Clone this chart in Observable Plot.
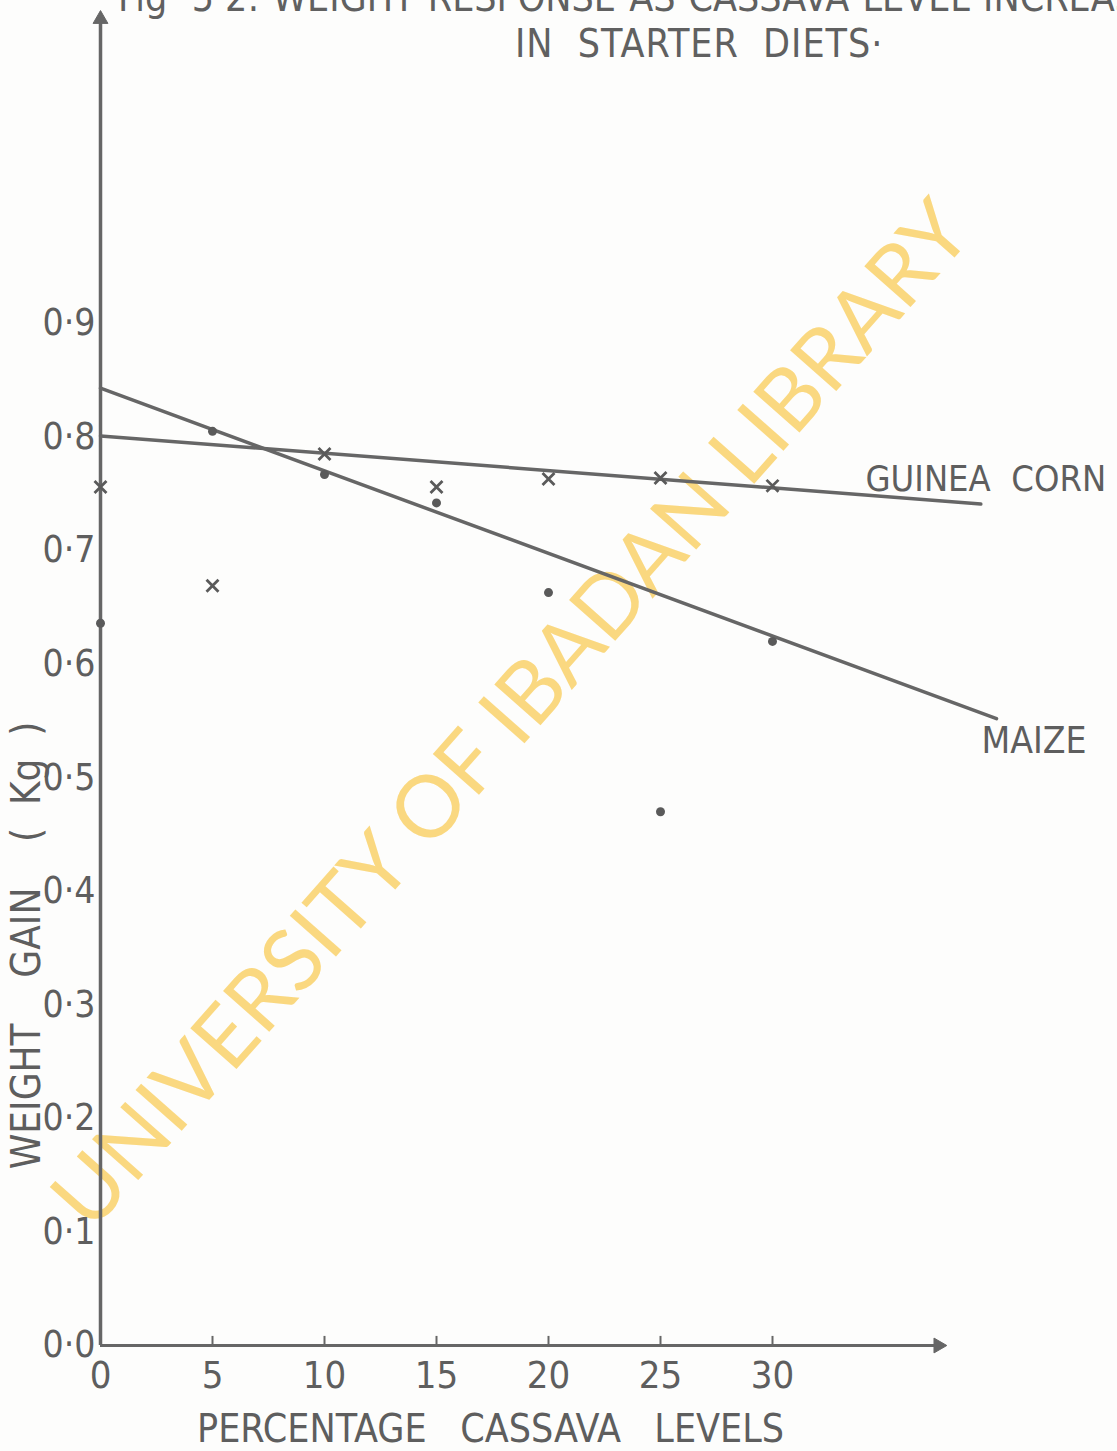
<!DOCTYPE html>
<html>
<head>
<meta charset="utf-8">
<script src="https://cdn.jsdelivr.net/npm/d3@7"></script>
<script src="https://cdn.jsdelivr.net/npm/@observablehq/plot@0.6"></script>
<style>
  html, body { margin: 0; padding: 0; background: #fdfdfc; overflow: hidden; }
  #wrap { position: relative; width: 1117px; height: 1451px; }
  .title { position: absolute; white-space: nowrap; font-family: "DejaVu Sans Condensed", "DejaVu Sans", sans-serif;
           font-size: 39px; color: #606060; }
  #t1 { left: 118px; top: -25px; word-spacing: 2px; letter-spacing: 0px; }
  #t2 { left: 515px; top: 21px; word-spacing: 12px; letter-spacing: 1px; }
</style>
</head>
<body>
<div id="wrap">
  <div class="title" id="t1">Fig· 5·2: WEIGHT  RESPONSE  AS  CASSAVA  LEVEL  INCREASES</div>
  <div class="title" id="t2">IN  STARTER  DIETS·</div>
  <div id="chart"></div>
</div>
<script>
// ---- data ----
const cassavaLevels = [0, 5, 10, 15, 20, 25, 30];
const guineaCornGain = [0.756, 0.669, 0.785, 0.756, 0.763, 0.764, 0.757];
const maizeGain = [0.636, 0.805, 0.767, 0.742, 0.663, 0.470, 0.620];
// fitted response lines (end points as drawn)
const guineaLineX = [0, 39.3];
const guineaLineY = [0.801, 0.741];
const maizeLineX = [0, 40];
const maizeLineY = [0.843, 0.552];
const xTicks = [0, 5, 10, 15, 20, 25, 30];
const yTicks = [0, 0.1, 0.2, 0.3, 0.4, 0.5, 0.6, 0.7, 0.8, 0.9];
const xAxisEnd = 37.4;
const yAxisEnd = 1.168;
const xTitle = "PERCENTAGE   CASSAVA   LEVELS";
const yTitle = "WEIGHT    GAIN    (  Kg  )";
const watermark = "UNIVERSITY OF IBADAN LIBRARY";

const guinea = cassavaLevels.map((x, i) => ({x, y: guineaCornGain[i]}));
const maize = cassavaLevels.map((x, i) => ({x, y: maizeGain[i]}));
const guineaLine = guineaLineX.map((x, i) => ({x, y: guineaLineY[i]}));
const maizeLine = maizeLineX.map((x, i) => ({x, y: maizeLineY[i]}));

const ink = "#666666";
const font = '"DejaVu Sans Condensed", "DejaVu Sans", sans-serif';

const chart = Plot.plot({
  width: 1117,
  height: 1451,
  marginLeft: 100,
  marginRight: 121,
  marginTop: 5,
  marginBottom: 106,
  x: {type: "linear", domain: [0, 40]},
  y: {type: "linear", domain: [0, 1.18]},
  style: {fontFamily: font, fontSize: "38px", color: "#5e5e5e", background: "transparent"},
  marks: [
    // watermark
    Plot.text([watermark], {frameAnchor: "middle", textAnchor: "middle", text: d => d, rotate: -48.5, dx: -36, dy: 40,
      fill: "#f9d16a", fillOpacity: 0.85, fontSize: 86, fontFamily: "Lato, 'Open Sans', sans-serif",
      letterSpacing: 4}),
    // axes with filled arrowheads
    Plot.ruleY([0], {x1: 0, x2: xAxisEnd, stroke: ink, strokeWidth: 3}),
    Plot.ruleX([0], {y1: 0, y2: yAxisEnd, stroke: ink, strokeWidth: 3.5}),
    Plot.dot([{x: xAxisEnd, y: 0}], {x: "x", y: "y", symbol: "triangle", rotate: 90, r: 5.5, fill: ink, stroke: ink, strokeWidth: 1}),
    Plot.dot([{x: 0, y: yAxisEnd}], {x: "x", y: "y", symbol: "triangle", r: 5.5, fill: ink, stroke: ink, strokeWidth: 1}),
    Plot.ruleX(xTicks.filter(d => d > 0), {x: d => d, y1: 0, y2: 0.008, stroke: ink, strokeWidth: 2}),
    Plot.axisX(xTicks, {tickSize: 0, tickPadding: 16, label: null, tickFormat: d => String(d), fontSize: 38}),
    Plot.axisY(yTicks, {tickSize: 0, tickPadding: 5, label: null, fontSize: 37,
      tickFormat: d => d.toFixed(1).replace(".", "·")}),
    // axis titles
    Plot.text([xTitle], {frameAnchor: "bottom", textAnchor: "middle", text: d => d, dx: -58, dy: 96, fontSize: 39, fill: "#5e5e5e"}),
    Plot.text([yTitle], {frameAnchor: "left", textAnchor: "middle", text: d => d, rotate: -90, dx: -73, dy: 270, fontSize: 40, fill: "#5e5e5e"}),
    // response lines
    Plot.line(guineaLine, {x: "x", y: "y", stroke: ink, strokeWidth: 3.5}),
    Plot.line(maizeLine, {x: "x", y: "y", stroke: ink, strokeWidth: 3.5}),
    // observations
    Plot.dot(guinea, {x: "x", y: "y", symbol: "times", r: 5.5, stroke: "#5a5a5a", strokeWidth: 2.8}),
    Plot.dot(maize, {x: "x", y: "y", r: 4.5, fill: "#5a5a5a", stroke: "none"}),
    // line labels
    Plot.text(guineaLine, Plot.selectLast({x: "x", y: "y", text: () => "GUINEA  CORN", dy: -25, dx: 5,
      textAnchor: "middle", fontSize: 36, fill: "#5e5e5e"})),
    Plot.text(maizeLine, Plot.selectLast({x: "x", y: "y", text: () => "MAIZE", dx: -15, dy: 23,
      textAnchor: "start", fontSize: 37, fill: "#5e5e5e"}))
  ]
});
document.getElementById("chart").appendChild(chart);
</script>
</body>
</html>
